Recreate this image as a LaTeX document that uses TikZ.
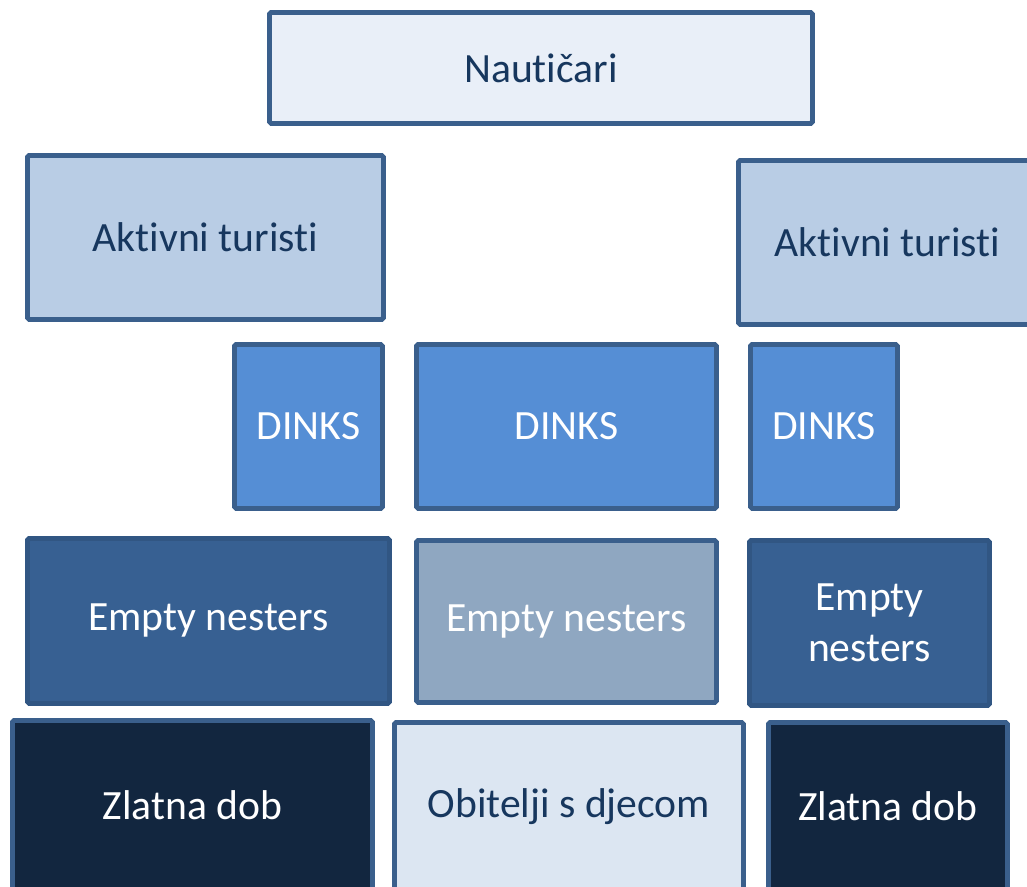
\documentclass[tikz,border=0pt]{standalone}
\usepackage{fontspec}
\setmainfont[Ligatures=NoCommon]{Carlito}
\definecolor{edge}{HTML}{3A5F8C}
\definecolor{paleblue}{HTML}{E9EFF8}
\definecolor{lightblue}{HTML}{B9CDE5}
\definecolor{midblue}{HTML}{558ED5}
\definecolor{darkblue}{HTML}{376092}
\definecolor{greyblue}{HTML}{8FA7C1}
\definecolor{nightblue}{HTML}{12263F}
\definecolor{iceblue}{HTML}{DCE6F2}
\definecolor{navytext}{HTML}{17375E}

\begin{document}
\begin{tikzpicture}
  [x=0.02cm, y=-0.02cm,
   every node/.style={draw=edge, line width=2.8pt, rounded corners=1pt, anchor=north west,
     inner sep=0pt, align=center, font=\fontsize{23.7}{29}\selectfont},
   seg/.style n args={3}{minimum width=#1*0.02cm, minimum height=#2*0.02cm, fill=#3},
   darktext/.style={text=navytext},
   lighttext/.style={text=white}]
  \useasboundingbox (0,0) rectangle (1027,886);
  % top level
  \node (nautic) [seg={543}{111}{paleblue}, darktext] at (267,10) {Nautičari};
  % second row
  \node (aktivL) [seg={356}{164}{lightblue}, darktext] at (25,153) {Aktivni turisti};
  \node (aktivR) [seg={298}{164}{lightblue}, darktext] at (736,158) {Aktivni turisti};
  % third row
  \node (dinksL) [seg={148}{164}{midblue}, lighttext] at (232,342) {DINKS};
  \node (dinksM) [seg={300}{164}{midblue}, lighttext] at (414,342) {DINKS};
  \node (dinksR) [seg={147}{164}{midblue}, lighttext] at (748,342) {DINKS};
  % fourth row
  \node (emptyL) [seg={362}{165}{darkblue}, draw=darkblue!90!black, lighttext] at (25,536) {Empty nesters};
  \node (emptyM) [seg={300}{162}{greyblue}, lighttext] at (414,538) {Empty nesters};
  \node (emptyR) [seg={240}{165}{darkblue}, draw=darkblue!90!black, lighttext] at (747,538) {Empty\\nesters};
  % bottom row
  \node (goldL) [seg={360}{170}{nightblue}, lighttext] at (10,718) {Zlatna dob};
  \node (family) [seg={349}{168}{iceblue}, darktext] at (392,720) {Obitelji s djecom};
  \node (goldR) [seg={239}{168}{nightblue}, lighttext] at (766,720) {Zlatna dob};
\end{tikzpicture}
\end{document}
